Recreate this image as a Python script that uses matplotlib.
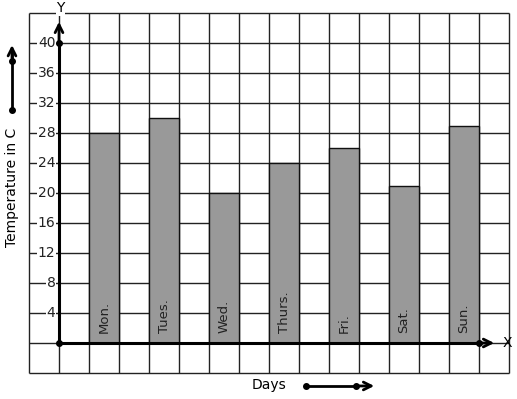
import matplotlib.pyplot as plt

days = ['Mon.', 'Tues.', 'Wed.', 'Thurs.', 'Fri.', 'Sat.', 'Sun.']
temps = [28, 30, 20, 24, 26, 21, 29]
y_ticks = [4, 8, 12, 16, 20, 24, 28, 32, 36, 40]

fig = plt.figure(figsize=(5.17, 3.99), dpi=100)
ax = fig.add_axes([0, 0, 1, 1])
ax.set_xlim(-59 / 30, 458 / 30)
ax.set_ylim(-56 / 7.5, 343 / 7.5)
ax.axis('off')

# grid squares
ax.vlines(range(-1, 16), -4, 44, color='#222222', lw=1, zorder=1)
ax.hlines(range(-4, 45, 4), -1, 15, color='#222222', lw=1, zorder=1)

# bars, one cell wide, leaving a gap cell between them
xs = [1 + 2 * i for i in range(len(days))]
ax.bar(xs, temps, width=1, align='edge', color='#999999',
       edgecolor='#111111', lw=1, zorder=2)
for x, d in zip(xs, days):
    ax.text(x + 0.5, 1.3, d, rotation=90, ha='center', va='bottom',
            fontsize=9.5, color='#222222', zorder=3)

# axes with arrows
ax.plot([0, 0], [0, 40], color='black', lw=2.2, zorder=4)
ax.annotate('', xy=(0, 43.2), xytext=(0, 39.5),
            arrowprops=dict(arrowstyle='->', lw=2, color='black',
                            mutation_scale=14), zorder=4)
ax.plot([0, 14], [0, 0], color='black', lw=2.2, zorder=4)
ax.annotate('', xy=(14.6, 0), xytext=(13.9, 0),
            arrowprops=dict(arrowstyle='->', lw=2, color='black',
                            mutation_scale=14), zorder=4)
ax.plot([0, 0, 14], [0, 40, 0], 'o', color='black', ms=4, zorder=5)
ax.text(0.05, 44.6, 'Y', ha='center', va='center', fontsize=10,
        bbox=dict(fc='white', ec='none', pad=0.5), zorder=5)
ax.text(14.95, 0, 'X', ha='center', va='center', fontsize=10, zorder=5)

for t in y_ticks:
    ax.text(-0.12, t, str(t), ha='right', va='center', fontsize=10,
            color='#222222', bbox=dict(fc='white', ec='none', pad=0.3), zorder=3)

# axis titles with their arrows
ax.text(-1.55, 20.7, 'Temperature in C', rotation=90, ha='center',
        va='center', fontsize=10)
ax.plot([-1.567, -1.567], [31.07, 38.5], color='black', lw=2)
ax.annotate('', xy=(-1.567, 40.1), xytext=(-1.567, 37.6),
            arrowprops=dict(arrowstyle='->', lw=2, color='black',
                            mutation_scale=14))
ax.plot([-1.567, -1.567], [31.07, 37.6], 'o', color='black', ms=4)

ax.text(7.0, -5.6, 'Days', ha='center', va='center', fontsize=10)
ax.plot([8.23, 9.9], [-5.73, -5.73], color='black', lw=2)
ax.annotate('', xy=(10.6, -5.73), xytext=(9.8, -5.73),
            arrowprops=dict(arrowstyle='->', lw=2, color='black',
                            mutation_scale=14))
ax.plot([8.23, 9.9], [-5.73, -5.73], 'o', color='black', ms=4)

fig.savefig('out.png', dpi=100)
